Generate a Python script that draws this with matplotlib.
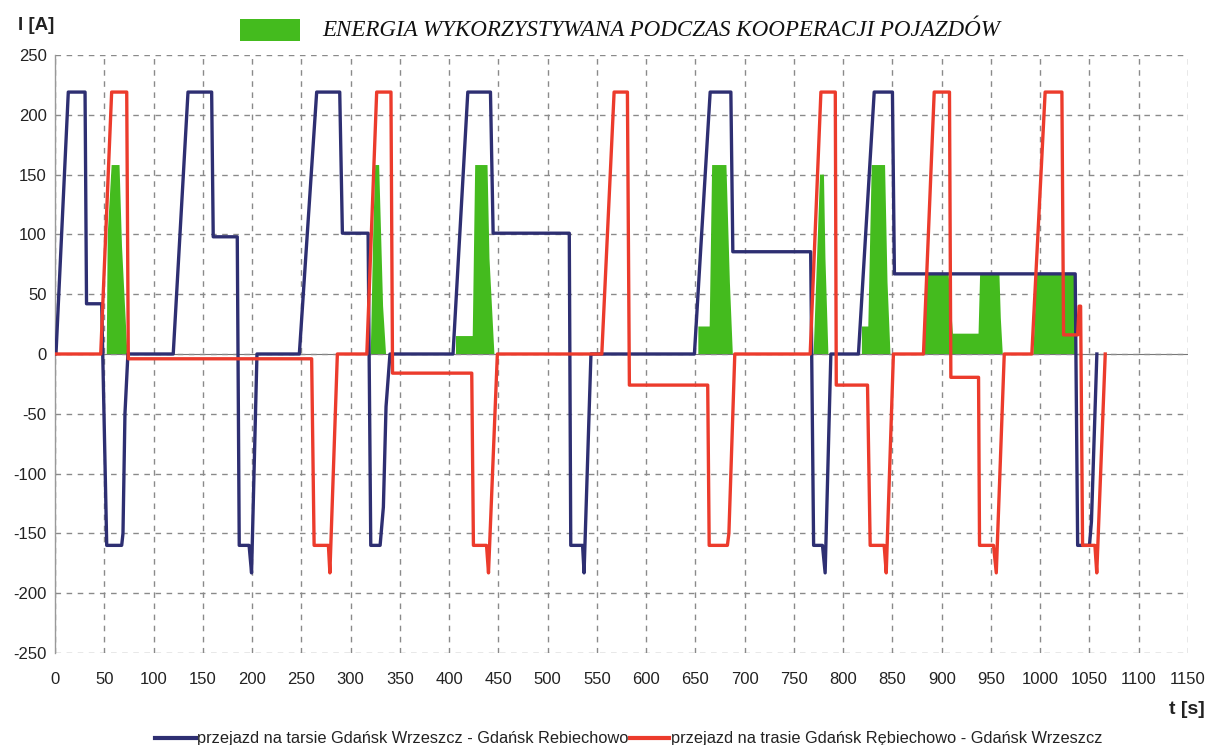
import matplotlib
matplotlib.use("Agg")
import matplotlib.pyplot as plt
from matplotlib.lines import Line2D
from matplotlib.patches import Rectangle

plt.rcParams["axes.unicode_minus"] = False

# ---- data (time in s, current in A) ----
blue_t = [0, 1, 13.5, 30.5, 32, 47.4, 52.5, 67.7, 69, 71, 74, 120, 135, 159, 160.6, 185, 187, 197,
          199.5, 205, 248, 265.6, 289, 291.7, 317.8, 320.5, 330, 333.3, 336, 340, 404, 419, 442,
          444.7, 522, 523.5, 535.5, 537, 544, 649, 665, 686, 688, 767, 770, 779, 781.7, 787.5,
          815.5, 831.5, 850, 852, 1035.5, 1038, 1050, 1052, 1057.5]
blue_I = [0, 0, 219, 219, 42, 42, -160, -160, -150, -50, 0, 0, 219, 219, 98, 98, -160, -160,
          -183, 0, 0, 219, 219, 101, 101, -160, -160, -128, -44, 0, 0, 219, 219,
          101, 101, -160, -160, -183, 0, 0, 219, 219, 85.5, 85.5, -160, -160, -183, 0,
          0, 219, 219, 67, 67, -160, -160, -140, 0]

red_t = [0, 46.4, 57.5, 72.8, 74.4, 260.5, 263, 277.5, 279, 286.6, 316.5, 326.5, 341, 342.6,
         423, 424.7, 438, 440, 449, 555, 567.5, 581, 583, 662.5, 664, 682.5, 684, 690, 766.5,
         777.4, 792, 793, 824.7, 827.4, 841.6, 843.7, 851, 881.5, 892.4, 907.9, 909.3, 937.4,
         938.4, 952.6, 955.4, 963.5, 991.5, 1005, 1022, 1023.7, 1038, 1039.5, 1041, 1043,
         1055.5, 1057.4, 1066]
red_I = [0, 0, 219, 219, -4, -4, -160, -160, -183, 0, 0, 219, 219, -16,
         -16, -160, -160, -183, 0, 0, 219, 219, -26, -26, -160, -160, -150, 0, 0,
         219, 219, -26, -26, -160, -160, -183, 0, 0, 219, 219, -19.5, -19.5,
         -160, -160, -183, 0, 0, 219, 219, 16, 16, 40, 40, -160,
         -160, -183, 0]

# cooperation energy regions (green)
coop_1_t = [52.5, 53.5, 57.5, 65.5, 68, 73.5]
coop_1_I = [0, 100, 158, 158, 90, 0]
coop_2_t = [320.5, 323, 325, 329, 331, 333, 336]
coop_2_I = [0, 100, 158, 158, 100, 40, 0]
coop_3_t = [407, 407, 424, 426.5, 439, 441, 446]
coop_3_I = [0, 15, 15, 158, 158, 80, 0]
coop_4_t = [653, 653, 664.5, 667, 681.5, 685, 688]
coop_4_I = [0, 23, 23, 158, 158, 60, 0]
coop_5_t = [770, 776.5, 780.5, 782, 785]
coop_5_I = [0, 150, 150, 80, 0]
coop_6_t = [819, 819, 825.5, 829, 842.5, 845, 848]
coop_6_I = [0, 23, 23, 158, 158, 60, 0]
coop_7_t = [881.5, 884.6, 907, 911.4, 937.4, 939, 958.6, 960, 962]
coop_7_I = [0, 67, 67, 17, 17, 67, 67, 30, 0]
coop_8_t = [993, 996.5, 1036, 1036.5]
coop_8_I = [0, 67, 67, 0]
coop_regions = [(coop_1_t, coop_1_I), (coop_2_t, coop_2_I), (coop_3_t, coop_3_I),
                (coop_4_t, coop_4_I), (coop_5_t, coop_5_I), (coop_6_t, coop_6_I),
                (coop_7_t, coop_7_I), (coop_8_t, coop_8_I)]

x_ticks = list(range(0, 1151, 50))
y_ticks = list(range(-250, 251, 50))

title_text = "ENERGIA WYKORZYSTYWANA PODCZAS KOOPERACJI POJAZDÓW"
label_blue = "przejazd na tarsie Gdańsk Wrzeszcz - Gdańsk Rebiechowo"
label_red = "przejazd na trasie Gdańsk Rębiechowo - Gdańsk Wrzeszcz"

BLUE = "#2e2f72"
RED = "#ec3b2c"
GREEN = "#44bb1e"
GRID = "#8a8a8a"
SANS = ["Liberation Sans", "DejaVu Sans"]

W, H = 1208, 745
fig = plt.figure(figsize=(W / 100, H / 100), dpi=100)
ax = fig.add_axes([55 / W, 1 - 653 / H, (1188 - 55) / W, (653 - 55) / H])

ax.set_xlim(0, 1150)
ax.set_ylim(-250, 250)
ax.set_xticks(x_ticks)
ax.set_yticks(y_ticks)
ax.grid(True, color=GRID, linestyle=(0, (4, 4)), linewidth=1.0)
for s in ["top", "right", "bottom"]:
    ax.spines[s].set_visible(False)
ax.spines["left"].set_color("#999999")
ax.spines["left"].set_linewidth(1.0)
ax.tick_params(length=0)
ax.tick_params(axis="y", pad=6)
ax.tick_params(axis="x", pad=14)
for lbl in ax.get_xticklabels() + ax.get_yticklabels():
    lbl.set_fontfamily(SANS)
    lbl.set_fontsize(12)
    lbl.set_color("#222222")

ax.axhline(0, color="#777777", linewidth=0.8, zorder=1)

for ct, ci in coop_regions:
    ax.fill(ct, ci, color=GREEN, linewidth=0, zorder=2)

ax.plot(blue_t, blue_I, color=BLUE, linewidth=2.4, zorder=3, solid_joinstyle="round")
ax.plot(red_t, red_I, color=RED, linewidth=2.4, zorder=4, solid_joinstyle="round")

# top legend for green area
fig.add_artist(Rectangle((240 / W, 1 - 41 / H), 60 / W, 22 / H, transform=fig.transFigure,
                         facecolor=GREEN, edgecolor="none"))
fig.text(322 / W, 1 - 31 / H, title_text, family=["Liberation Serif", "DejaVu Serif"],
         style="italic", fontsize=16.6, va="center", ha="left", color="#111111")

fig.text(18 / W, 1 - 25 / H, "I [A]", family=SANS, fontweight="bold", fontsize=13.5,
         va="center", ha="left", color="#222222")
fig.text(1205 / W, 1 - 709 / H, "t [s]", family=SANS, fontweight="bold", fontsize=14,
         va="center", ha="right", color="#222222")

# bottom legend
yl = 1 - 738 / H
fig.add_artist(Line2D([155 / W, 196 / W], [yl, yl], transform=fig.transFigure, color=BLUE, linewidth=3))
fig.text(197 / W, yl, label_blue, family=SANS, fontsize=11.8, va="center", ha="left", color="#222222")
fig.add_artist(Line2D([630 / W, 669 / W], [yl, yl], transform=fig.transFigure, color=RED, linewidth=3))
fig.text(671 / W, yl, label_red, family=SANS, fontsize=11.8, va="center", ha="left", color="#222222")

fig.savefig("out.png", dpi=100, facecolor="white")
